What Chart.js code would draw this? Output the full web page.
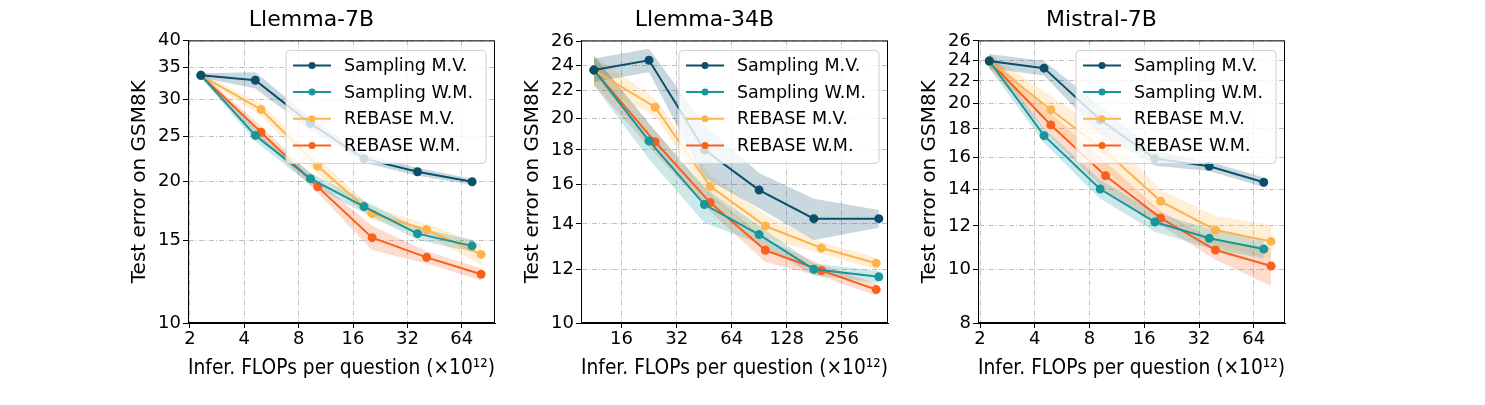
<!DOCTYPE html>
<html>
<head>
<meta charset="utf-8">
<script src="https://cdn.jsdelivr.net/npm/chart.js@4"></script>
<style>
body { margin: 0; background: #fff; width: 1485px; height: 405px; position: relative; overflow: hidden; }
canvas { position: absolute; top: 0; }
</style>
</head>
<body>
<canvas id="c1" width="375" height="405" style="left:128px"></canvas>
<canvas id="c2" width="375" height="405" style="left:521px"></canvas>
<canvas id="c3" width="375" height="405" style="left:918px"></canvas>
<script>
const seriesNames = ['Sampling M.V.', 'Sampling W.M.', 'REBASE M.V.', 'REBASE W.M.']
const seriesColors = ['#0b4f6c', '#1a9599', '#fdb44b', '#f8601c']

// Llemma-7B
const p1X_sampling = [2.3, 4.6, 9.3, 18.4, 36.4, 73]
const p1X_rebase = [2.3, 4.95, 10.2, 20.4, 40.9, 82]
const p1_smv = [33.7, 32.9, 26.6, 22.4, 21.0, 20.0]
const p1_swm = [33.7, 25.1, 20.3, 17.7, 15.5, 14.6]
const p1_rmv = [33.7, 28.5, 21.6, 17.1, 15.8, 14.0]
const p1_rwm = [33.7, 25.5, 19.5, 15.2, 13.8, 12.7]
const p1_spread = [[1, 4, 3, 2, 2, 1.5], [1, 3, 3, 3, 3, 3], [1, 3, 4, 3, 3, 5], [1, 3, 3, 6, 3, 3]]
const p1YTicks = [10, 15, 20, 25, 30, 35, 40]
const p1XTicks = [2, 4, 8, 16, 32, 64]

// Llemma-34B
const p2X_sampling = [11.3, 22.6, 45.4, 90.4, 180, 408]
const p2X_rebase = [11.3, 24.4, 48.8, 97.8, 198, 395]
const p2_smv = [23.6, 24.4, 18.0, 15.7, 14.25, 14.25]
const p2_swm = [23.6, 18.55, 14.95, 13.5, 12.0, 11.7]
const p2_rmv = [23.6, 20.8, 15.9, 13.9, 12.9, 12.25]
const p2_rwm = [23.6, 18.5, 15.05, 12.8, 11.95, 11.2]
const p2_spread = [[4, 4, 9, 6, 7, 3], [5, 6, 6, 3, 2, 2], [5, 3, 4, 4, 2, 2], [5, 4, 3, 4, 2, 2]]
const p2YTicks = [10, 12, 14, 16, 18, 20, 22, 24, 26]
const p2XTicks = [16, 32, 64, 128, 256]

// Mistral-7B
const p3X_sampling = [2.25, 4.5, 9.15, 18.3, 36.4, 72.6]
const p3X_rebase = [2.25, 4.9, 9.8, 19.7, 39.4, 79.7]
const p3_smv = [23.9, 23.2, 18.7, 15.9, 15.4, 14.4]
const p3_swm = [23.9, 17.5, 14.0, 12.2, 11.4, 10.9]
const p3_rmv = [23.9, 19.5, 16.4, 13.3, 11.8, 11.25]
const p3_rwm = [23.9, 18.3, 14.8, 12.4, 10.85, 10.15]
const p3_spread = [[3, 3, 6, 3, 2, 2], [3, 3, 4, 4, 4, 4], [3, 6, 8, 5, 6, 7], [3, 5, 6, 3, 4, 8]]
const p3YTicks = [8, 10, 12, 14, 16, 18, 20, 22, 24, 26]
const p3XTicks = [2, 4, 8, 16, 32, 64]

const boxPlugin = {
	id: 'box',
	afterDatasetsDraw(chart) {
		const a = chart.chartArea
		const ctx = chart.ctx
		ctx.save()
		ctx.strokeStyle = '#000'
		ctx.lineWidth = 1
		ctx.strokeRect(a.left + 0.5, a.top + 0.5, a.right - a.left - 1, a.bottom - a.top - 1)
		// legend in upper right
		const w = 200, h = 113
		const x = a.right - 9 - w, y = a.top + 10
		ctx.fillStyle = 'rgba(255,255,255,0.8)'
		ctx.strokeStyle = '#d0d0d0'
		ctx.beginPath()
		ctx.roundRect(x, y, w, h, 4)
		ctx.fill()
		ctx.stroke()
		ctx.font = '17.5px "DejaVu Sans"'
		ctx.textBaseline = 'middle'
		seriesNames.forEach((name, i) => {
			const ry = y + 15 + i * 26.7
			ctx.strokeStyle = seriesColors[i]
			ctx.lineWidth = 2
			ctx.beginPath()
			ctx.moveTo(x + 7, ry)
			ctx.lineTo(x + 45, ry)
			ctx.stroke()
			ctx.fillStyle = seriesColors[i]
			ctx.beginPath()
			ctx.arc(x + 26, ry, 3.5, 0, Math.PI * 2)
			ctx.fill()
			ctx.fillStyle = '#000'
			ctx.fillText(name, x + 58, ry + 1)
		})
		ctx.restore()
	},
}

function makePanel(id, title, xs, ys, spreads, yTicks, xTicks, xMin, xMax, yMin, yMax) {
	const datasets = []
	ys.forEach((vals, i) => {
		const xv = xs[i]
		const upper = vals.map((v, j) => ({ x: xv[j], y: v * (1 + spreads[i][j] / 100) }))
		const lower = vals.map((v, j) => ({ x: xv[j], y: v * (1 - spreads[i][j] / 100) }))
		datasets.push({ data: upper, borderWidth: 0, pointRadius: 0, fill: false, order: 10 })
		datasets.push({ data: lower, borderWidth: 0, pointRadius: 0, fill: '-1', backgroundColor: seriesColors[i] + '38', order: 10 })
	})
	ys.forEach((vals, i) => {
		datasets.push({
			label: seriesNames[i],
			data: vals.map((v, j) => ({ x: xs[i][j], y: v })),
			borderColor: seriesColors[i],
			backgroundColor: seriesColors[i],
			borderWidth: 2,
			pointRadius: 3.5,
			pointHoverRadius: 3.5,
			fill: false,
			order: 1,
		})
	})
	const grid = { color: '#c0c0c0', tickLength: 5, tickColor: '#000' }
	const border = { display: true, color: '#000', dash: [5, 2, 1, 2] }
	new Chart(document.getElementById(id), {
		type: 'line',
		data: { datasets },
		options: {
			responsive: false,
			animation: false,
			devicePixelRatio: 1,
			layout: { padding: { left: 0, right: 8, top: 0, bottom: 0 } },
			plugins: {
				legend: { display: false },
				tooltip: { enabled: false },
				title: { display: true, text: title, color: '#000', font: { family: 'DejaVu Sans', size: 22, weight: 'normal' }, padding: { top: 7, bottom: 7 } },
			},
			scales: {
				x: {
					type: 'logarithmic', min: xMin, max: xMax,
					afterBuildTicks: s => { s.ticks = xTicks.map(v => ({ value: v })) },
					afterFit: s => { s.height = 82 },
					ticks: { color: '#000', font: { family: 'DejaVu Sans', size: 18 }, callback: v => String(v), maxRotation: 0, autoSkip: false, padding: 1 },
					grid, border,
					title: { display: true, text: 'Infer. FLOPs per question (×10¹²)', color: '#000', font: { family: 'DejaVu Sans', size: 21 }, padding: { top: 0, bottom: 24 } },
				},
				y: {
					type: 'logarithmic', min: yMin, max: yMax,
					afterBuildTicks: s => { s.ticks = yTicks.map(v => ({ value: v })) },
					afterFit: s => { s.width = 60 },
					ticks: { color: '#000', font: { family: 'DejaVu Sans', size: 18 }, callback: v => String(v), autoSkip: false, padding: 2 },
					grid, border,
					title: { display: true, text: 'Test error on GSM8K', color: '#000', font: { family: 'DejaVu Sans', size: 20 }, padding: { top: 0, bottom: 0 } },
				},
			},
		},
		plugins: [boxPlugin],
	})
}

makePanel('c1', 'Llemma-7B', [p1X_sampling, p1X_sampling, p1X_rebase, p1X_rebase], [p1_smv, p1_swm, p1_rmv, p1_rwm], p1_spread, p1YTicks, p1XTicks, 1.95, 97.8, 10, 40)
makePanel('c2', 'Llemma-34B', [p2X_sampling, p2X_sampling, p2X_rebase, p2X_rebase], [p2_smv, p2_swm, p2_rmv, p2_rwm], p2_spread, p2YTicks, p2XTicks, 9.6, 458, 10, 26.1)
makePanel('c3', 'Mistral-7B', [p3X_sampling, p3X_sampling, p3X_rebase, p3X_rebase], [p3_smv, p3_swm, p3_rmv, p3_rwm], p3_spread, p3YTicks, p3XTicks, 1.95, 95, 8, 26.05)
</script>
</body>
</html>
